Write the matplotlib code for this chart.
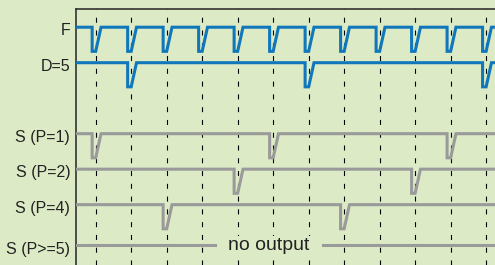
import numpy as np
import matplotlib.pyplot as plt

# ── Data ──────────────────────────────────────────────────────────────────────
TICKS = list(range(12))                      # clock ticks (dashed lines)
SIGNALS = ["F", "D=5", "S (P=1)", "S (P=2)", "S (P=4)", "S (P>=5)"]
ROWS    = [0, 1, 3, 4, 5, 6.15]              # vertical slot of each trace
PULSES  = {
    "F":        list(range(12)),
    "D=5":      [1, 6, 11],
    "S (P=1)":  [0, 5, 10],
    "S (P=2)":  [4, 9],
    "S (P=4)":  [2, 7],
    "S (P>=5)": [],
}
NO_OUTPUT_GAP = (3.36, 6.40)                 # where "no output" sits on last trace

# ── Style ─────────────────────────────────────────────────────────────────────
BG    = "#dcebc6"
BLUE  = "#1177bb"
GRAY  = "#9a9a9a"
DEPTH = 0.68
FALL, BOT, RISE = -0.10, 0.0, 0.15
XMIN, XMAX = -0.555, 11.25
YMIN, YMAX = -0.513, 6.70


def trace(pulses, row):
    xs, ys = [XMIN], [row]
    for k in pulses:
        xs += [k + FALL, k + FALL, k + BOT, k + RISE]
        ys += [row, row + DEPTH, row + DEPTH, row]
    xs.append(XMAX)
    ys.append(row)
    return np.array(xs), np.array(ys)


fig = plt.figure(figsize=(4.95, 2.65), dpi=100, facecolor=BG)
ax = fig.add_axes([76 / 495, 0, 1 - 76 / 495, 1 - 9 / 265])
ax.set_facecolor(BG)
ax.set_xlim(XMIN, XMAX)
ax.set_ylim(YMAX, YMIN)

for k in TICKS:
    ax.axvline(k, color="black", lw=0.8, ls=(0, (4.5, 7)), zorder=1)

for name, row in zip(SIGNALS, ROWS):
    color = BLUE if name in ("F", "D=5") else GRAY
    xs, ys = trace(PULSES[name], row)
    if name == "S (P>=5)":
        a, b = NO_OUTPUT_GAP
        ax.plot([XMIN, a], [row, row], color=color, lw=2.2, zorder=3)
        ax.plot([b, XMAX], [row, row], color=color, lw=2.2, zorder=3)
        ax.text((a + b) / 2, row, "no output", ha="center", va="center",
                fontsize=14, color="#222222", family="Liberation Sans",
                bbox=dict(facecolor=BG, edgecolor="none", pad=1), zorder=4)
    else:
        ax.plot(xs, ys, color=color, lw=2.2, solid_joinstyle="miter", zorder=3)
    ax.text(-0.72, row + 0.1, name, ha="right", va="center", fontsize=11.5,
            color="#222222", family="Liberation Sans", clip_on=False)

for side in ("right", "bottom"):
    ax.spines[side].set_visible(False)
for side in ("top", "left"):
    ax.spines[side].set_color("#333333")
    ax.spines[side].set_linewidth(1.2)
ax.set_xticks([])
ax.set_yticks([])

fig.savefig("out.png", dpi=100, facecolor=BG)
